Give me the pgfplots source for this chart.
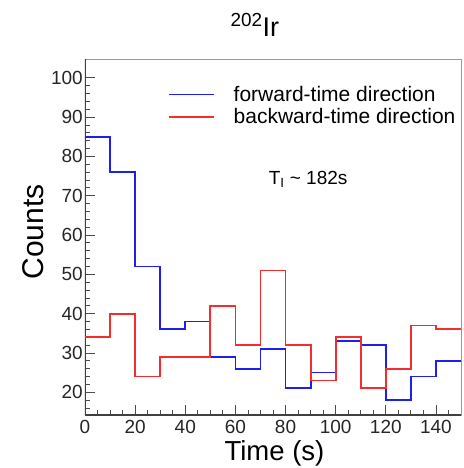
\documentclass[border=0pt]{standalone}
\usepackage{pgfplots}
\pgfplotsset{compat=1.18}
\usepackage{fontspec}
\setmainfont{Liberation Sans}
\definecolor{hblue}{RGB}{30,30,240}
\definecolor{hred}{RGB}{245,45,45}
\begin{document}
\begin{tikzpicture}
\begin{axis}[
  scale only axis, width=376pt, height=356pt,
  xmin=0, xmax=150, ymin=14.2, ymax=104.8,
  /pgf/number format/assume math mode=true,
  axis line style={draw=gray!80, line width=0.6pt},
  xtick distance=20, minor x tick num=3,
  ytick distance=10, minor y tick num=4,
  xtick pos=bottom, ytick pos=left, tick align=inside,
  major tick length=10pt, minor tick length=5pt,
  every tick/.style={black!70, line width=0.8pt},
  tick label style={font=\fontsize{19}{22}\selectfont, black!85},
  yticklabel style={inner sep=1pt, xshift=-1pt},
  xticklabel style={inner sep=1pt, yshift=-4pt},
  title={\textsuperscript{202}Ir},
  title style={font=\fontsize{27}{30}\selectfont, at={(rel axis cs:0.452,1)}, anchor=base, yshift=17pt, inner sep=0pt},
  xlabel={Time (s)},
  xlabel style={font=\fontsize{27.5}{30}\selectfont, at={(rel axis cs:0.504,0)}, anchor=base, yshift=-45pt, inner sep=0pt},
  ylabel={Counts},
  ylabel style={font=\fontsize{30}{34}\selectfont, at={(rel axis cs:0,0.514)}, anchor=center, yshift=52pt, xshift=0pt},
  legend style={at={(axis cs:33,98.2)}, anchor=north west, draw=none, fill=none,
    font=\fontsize{21}{24}\selectfont, row sep=3.5pt, column sep=18pt, inner sep=0pt,
    nodes={inner sep=1pt}},
  legend cell align=left,
  legend image code/.code={\draw[#1] (0pt,0pt) -- (45pt,0pt);},
]
\draw[black!75, line width=1.4pt] (rel axis cs:0,0) -- (rel axis cs:0,1);
\draw[black!75, line width=1.4pt] (rel axis cs:0,0) -- (rel axis cs:1,0);
\addplot[hblue, line width=1.8pt, const plot] coordinates {
(0,85) (10,76) (20,52) (30,36) (40,38) (50,29) (60,26) (70,31) (80,21) (90,25)
(100,33) (110,32) (120,18) (130,24) (140,28) (150,28)};
\addlegendentry{forward-time direction}
\addplot[hred, line width=1.8pt, const plot] coordinates {
(0,34) (10,40) (20,24) (30,29) (40,29) (50,42) (60,32) (70,51) (80,32) (90,23)
(100,34) (110,21) (120,26) (130,37) (140,36) (150,36)};
\addlegendentry{backward-time direction}
\node[font=\fontsize{19}{22}\selectfont] at (axis cs:89,74.2) {T\textsubscript{I} \textasciitilde{} 182s};
\end{axis}
\path ([shift={(-85pt,-53pt)}]current axis.south west) rectangle ([shift={(3pt,59pt)}]current axis.north east);
\end{tikzpicture}
\end{document}
